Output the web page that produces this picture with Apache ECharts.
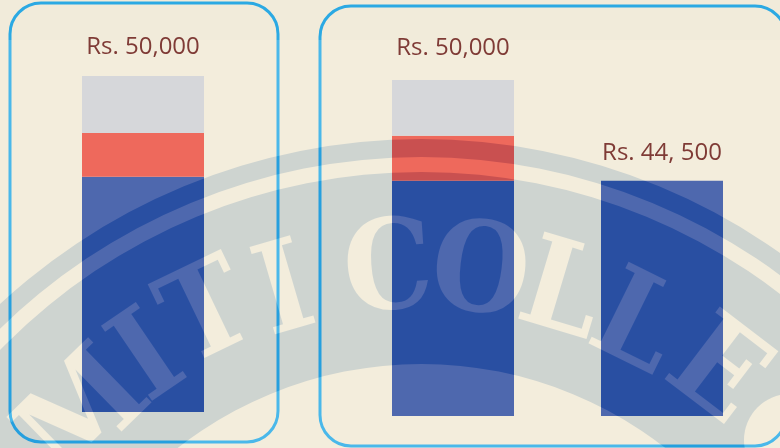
<!DOCTYPE html>
<html>
<head>
<meta charset="utf-8">
<style>
  html, body { margin: 0; padding: 0; background: #f3eddc; }
  #main { width: 780px; height: 448px; }
</style>
</head>
<body>
<div id="main"></div>
<script src="https://cdn.jsdelivr.net/npm/echarts@6/dist/echarts.min.js"></script>
<script>
// chart values
const leftCategories = ['A']
const leftBlue = [35000]
const leftRed = [6500]
const leftGray = [8500]
const leftLabels = ['Rs. 50,000']

const rightCategories = ['B', 'C']
const rightBlue = [35000, 35000]
const rightRed = [6700, 0]
const rightGray = [8300, 0]
const rightLabels = ['Rs. 50,000', 'Rs. 44, 500']

// watermark letters: char, degrees off the top of the seal, radius
const sealLetters = [
  ['M', -44.3, 477], ['I', -34.2, 481], ['T', -25.7, 489], ['I', -16.3, 482],
  ['C', -3.9, 485], ['O', 6.9, 485], ['L', 16.7, 483], ['L', 26.2, 480], ['E', 37.3, 483]
]

const SEAL = { cx: 421.5, cy: 760 }
const shade = 'rgb(37,25,12)'

function stackSeries (grid, name, values, color, labels, distance) {
  return {
    name: name,
    type: 'bar',
    stack: 'g' + grid,
    xAxisIndex: grid,
    yAxisIndex: grid,
    barWidth: 122,
    data: values,
    itemStyle: { color: color },
    label: labels ? {
      show: true,
      position: 'top',
      distance: distance,
      fontFamily: 'Open Sans',
      fontWeight: 500,
      fontSize: 24,
      color: '#7f3b36',
      formatter: function (p) { return labels[p.dataIndex] || '' }
    } : { show: false }
  }
}

const sealGraphics = [
  { type: 'ring', z: 100, silent: true, shape: { cx: SEAL.cx, cy: SEAL.cy, r: 621, r0: 603 }, style: { fill: shade, blend: 'difference' } },
  { type: 'ring', z: 100, silent: true, shape: { cx: SEAL.cx, cy: SEAL.cy, r: 588, r0: 396 }, style: { fill: shade, blend: 'difference' } },
  { type: 'circle', z: 101, silent: true, shape: { cx: 790, cy: 440, r: 46 }, style: { fill: shade, blend: 'lighter' } }
]
sealLetters.forEach(function (l) {
  const a = l[1] * Math.PI / 180
  sealGraphics.push({
    type: 'text',
    z: 101,
    silent: true,
    x: SEAL.cx + l[2] * Math.sin(a),
    y: SEAL.cy - l[2] * Math.cos(a),
    rotation: -a,
    scaleX: 0.86,
    scaleY: 0.86,
    style: {
      text: l[0],
      font: 'bold 145px "DejaVu Serif Condensed"',
      fill: shade,
      textAlign: 'center',
      textVerticalAlign: 'middle'
    }
  })
})

const frameColor = new echarts.graphic.LinearGradient(0, 0, 0, 448, [
  { offset: 0, color: '#2ba9e3' },
  { offset: 0.09, color: '#2ba9e3' },
  { offset: 0.09, color: '#4ab8ea' },
  { offset: 1, color: '#4ab8ea' }
], true)

const frame = function (x, y, w, h) {
  return {
    type: 'rect',
    z: 1,
    silent: true,
    shape: { x: x, y: y, width: w, height: h, r: 31 },
    style: { fill: 'none', stroke: frameColor, lineWidth: 3 }
  }
}

const myChart = echarts.init(document.getElementById('main'))
const option = {
  animation: false,
  backgroundColor: new echarts.graphic.LinearGradient(0, 0, 0, 1, [
    { offset: 0, color: '#f1ebda' },
    { offset: 0.09, color: '#f1ebda' },
    { offset: 0.09, color: '#f3eddc' },
    { offset: 1, color: '#f3eddc' }
  ]),
  grid: [
    { left: 82, top: 76, width: 122, height: 336 },
    { left: 348.5, top: 80, width: 418, height: 336 }
  ],
  xAxis: [
    { type: 'category', gridIndex: 0, data: leftCategories, show: false },
    { type: 'category', gridIndex: 1, data: rightCategories, show: false }
  ],
  yAxis: [
    { type: 'value', gridIndex: 0, min: 0, max: 50000, show: false },
    { type: 'value', gridIndex: 1, min: 0, max: 50000, show: false }
  ],
  graphic: [
    frame(10, 3, 268, 439),
    frame(320, 6, 466, 440)
  ].concat(sealGraphics),
  series: [
    stackSeries(0, 'blue', leftBlue, '#4e68ae'),
    stackSeries(0, 'red', leftRed, '#ee695c'),
    stackSeries(0, 'gray', leftGray, '#d6d7da', leftLabels, 17),
    stackSeries(1, 'blue', rightBlue, '#4e68ae', ['', rightLabels[1]], 16),
    stackSeries(1, 'red', rightRed, '#ee695c'),
    stackSeries(1, 'gray', rightGray, '#d6d7da', [rightLabels[0], ''], 20)
  ]
}
myChart.setOption(option)

// text children of the seal letters don't take blend from the option, set it on them directly
myChart.getZr().storage.getDisplayList(true).forEach(function (el) {
  if (el.style && el.style.text && el.style.fill === shade) {
    el.style.blend = 'lighter'
    el.markRedraw()
  }
})
myChart.getZr().refreshImmediately()
</script>
</body>
</html>
